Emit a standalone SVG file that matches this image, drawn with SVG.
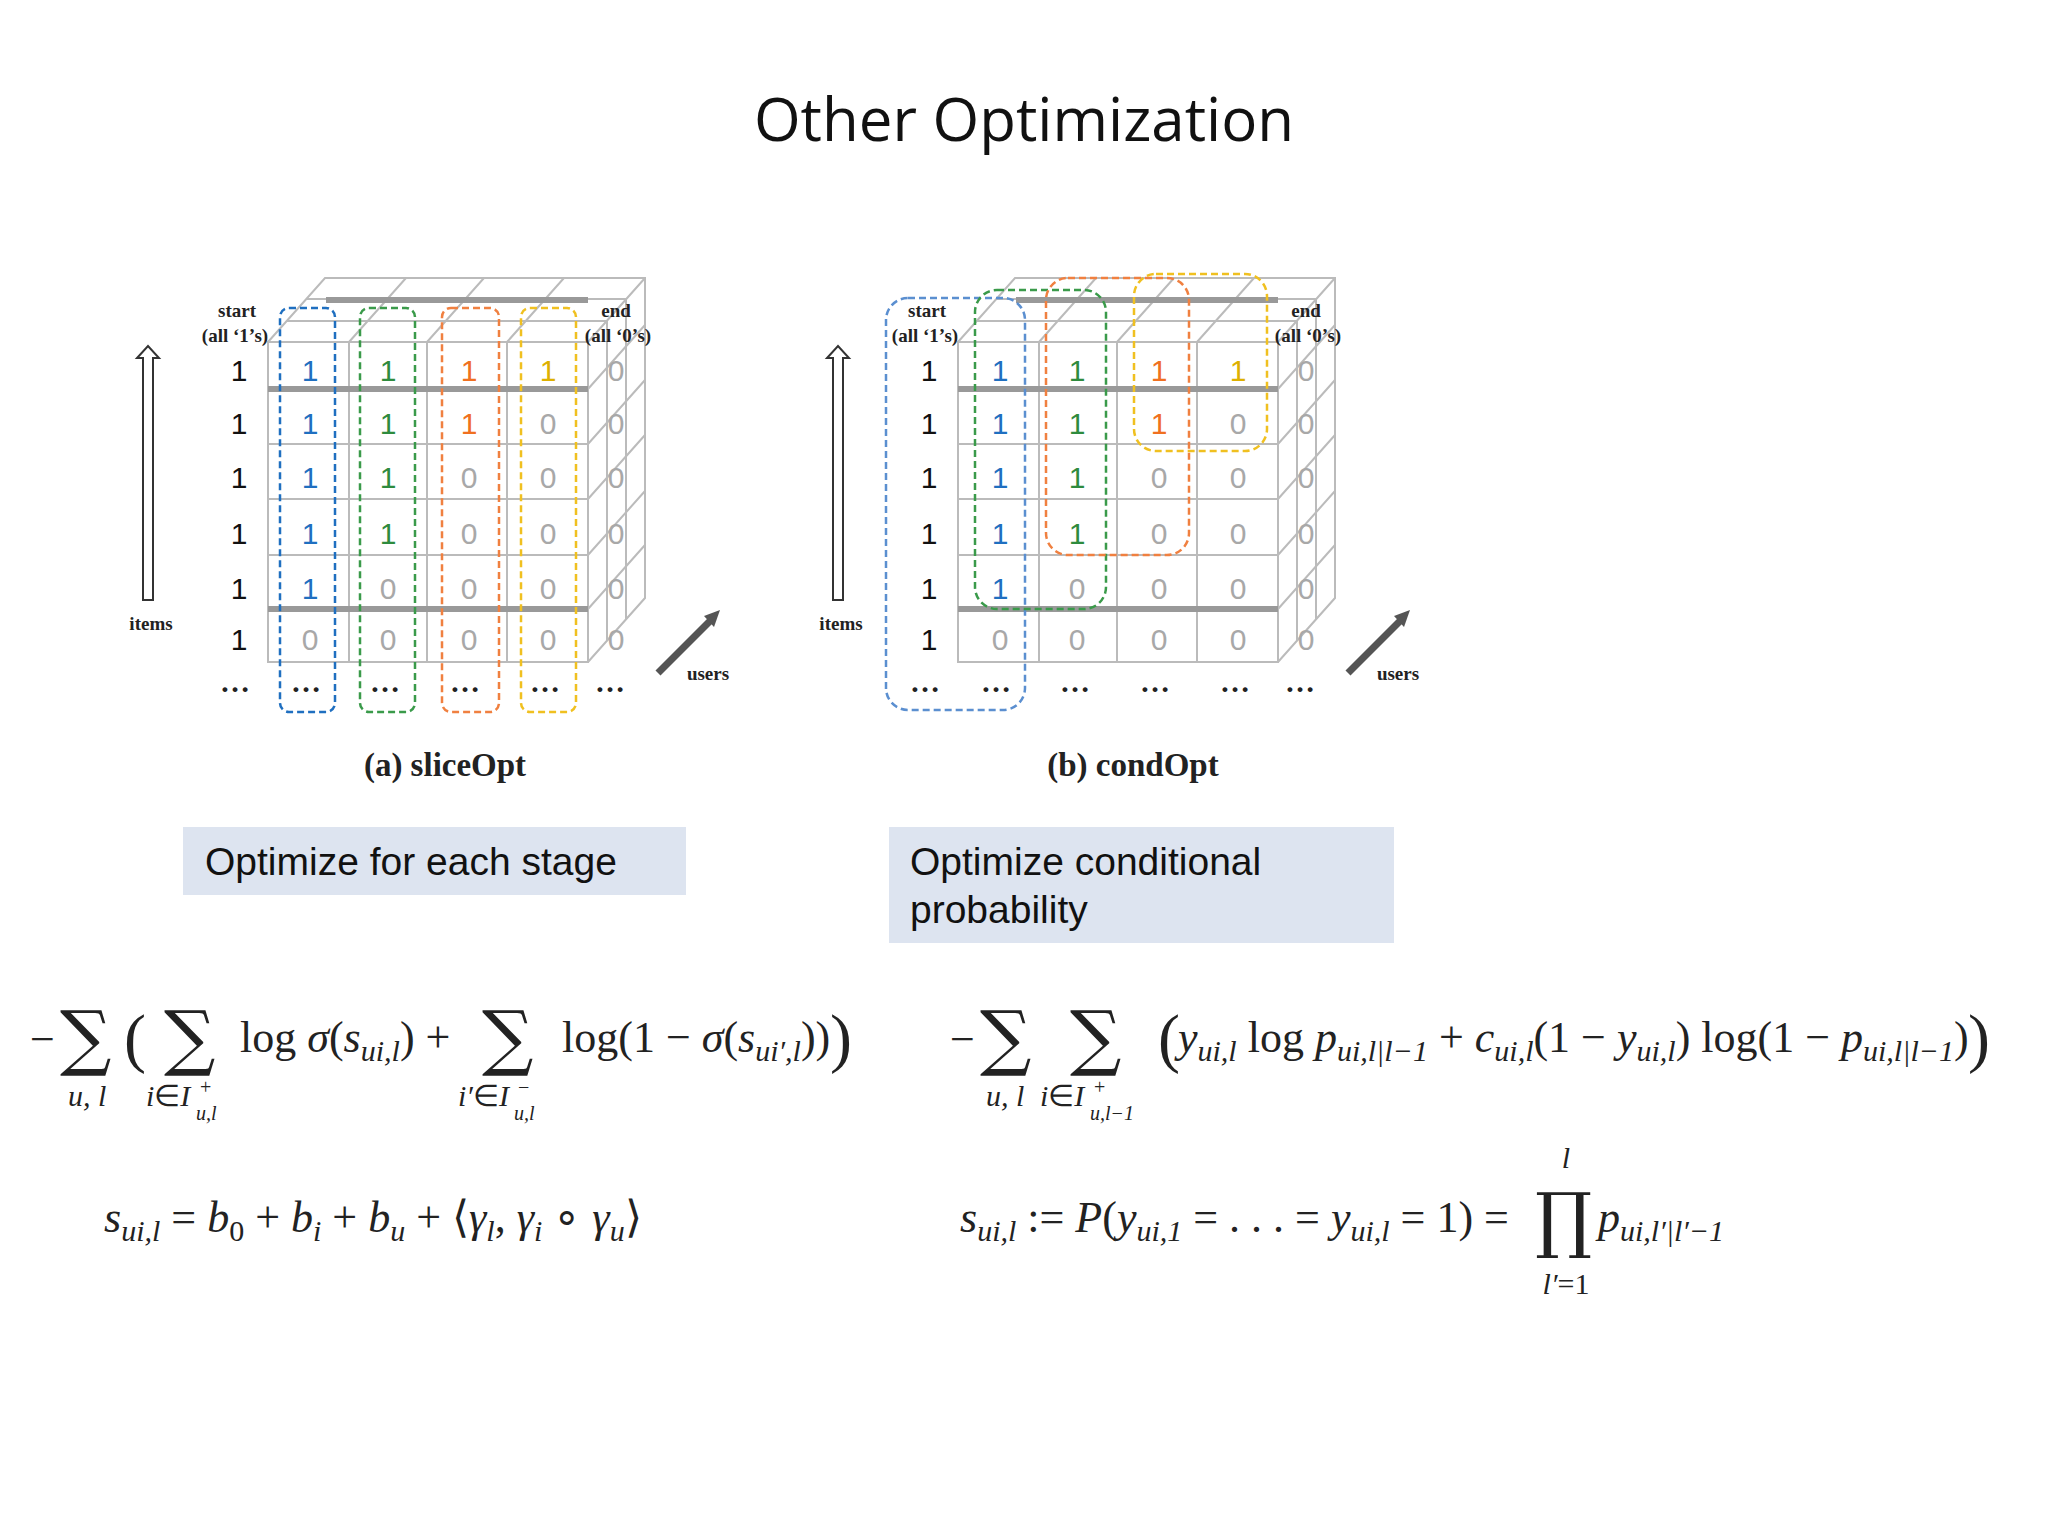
<svg xmlns="http://www.w3.org/2000/svg" width="2048" height="1536" viewBox="0 0 2048 1536">
<defs>
<style>
.t{font-family:"Liberation Serif",serif;font-weight:bold;fill:#222}
.c{font-family:"Liberation Sans",sans-serif;font-size:30px;text-anchor:middle}
.k{fill:#111}.b{fill:#1f6fc0}.g{fill:#2e8b3e}.o{fill:#f07020}.y{fill:#ddb000}.z{fill:#a8a8a8}
.gl{stroke:#bbb;stroke-width:2;fill:none}
.tk{stroke:#999;stroke-width:6}
.box{fill:none;stroke-width:2.5;stroke-dasharray:7 4}
.m{font-family:"Liberation Serif",serif;font-style:italic;font-size:44px;fill:#222}
.r{font-style:normal}
.s{font-size:30px}
.ss{font-size:20px}
.big{font-family:"DejaVu Serif",serif;font-style:normal;font-size:72px}
.par{font-family:"Liberation Serif",serif;font-style:normal;font-size:66px}
.lbl{font-family:"Liberation Sans",sans-serif;font-size:39px;fill:#111}
</style>
<g id="cube">
<path class="gl" d="M268 342 L325 278 L645 278 L645 598 L588 662 M588 342 L645 278"/>
<path class="gl" d="M287 321 L607 321 L607 641 M306 299 L626 299 L626 619"/>
<path class="gl" d="M349 342 L406 278 M427 342 L484 278 M507 342 L564 278"/>
<path class="gl" d="M588 389 L645 325 M588 444 L645 380 M588 499 L645 435 M588 555 L645 491 M588 609 L645 545"/>
<rect class="gl" x="268" y="342" width="320" height="320"/>
<path class="gl" d="M349 342 V662 M427 342 V662 M507 342 V662 M268 444 H588 M268 499 H588 M268 555 H588"/>
<path class="tk" d="M268 389 H588 M268 609 H588 M326 300 H588"/>
<g class="c">
<text x="239" y="381" class="k">1</text><text x="239" y="434" class="k">1</text><text x="239" y="488" class="k">1</text><text x="239" y="544" class="k">1</text><text x="239" y="599" class="k">1</text><text x="239" y="650" class="k">1</text>
<text x="616" y="381" class="z">0</text><text x="616" y="434" class="z">0</text><text x="616" y="488" class="z">0</text><text x="616" y="544" class="z">0</text><text x="616" y="599" class="z">0</text><text x="616" y="650" class="z">0</text>
</g>
<g class="t" font-size="19" text-anchor="middle">
<text x="237" y="317">start</text><text x="235" y="342">(all ‘1’s)</text>
<text x="616" y="317">end</text><text x="618" y="342">(all ‘0’s)</text>
<text x="151" y="630">items</text><text x="708" y="680">users</text>
</g>
<path d="M143 600 V358 L137 358 L148 346 L159 358 L153 358 V600 Z" fill="#fff" stroke="#333" stroke-width="2"/>
<path d="M658 673 L712 619" stroke="#555" stroke-width="7"/>
<path d="M704 616 L720 610 L714 627 Z" fill="#555"/>
<g class="t" font-size="30" text-anchor="middle">
<text x="235" y="692">…</text><text x="306" y="692">…</text><text x="385" y="692">…</text><text x="465" y="692">…</text><text x="545" y="692">…</text><text x="610" y="692">…</text>
</g>
</g>
</defs>
<rect width="2048" height="1536" fill="#fff"/>
<text x="1024" y="141" text-anchor="middle" font-family="Open Sans,Liberation Sans,sans-serif" font-size="60" fill="#111">Other Optimization</text>

<g id="panel-a">
<use href="#cube"/>
<g class="c">
<text x="310" y="381" class="b">1</text><text x="310" y="434" class="b">1</text><text x="310" y="488" class="b">1</text><text x="310" y="544" class="b">1</text><text x="310" y="599" class="b">1</text><text x="310" y="650" class="z">0</text>
<text x="388" y="381" class="g">1</text><text x="388" y="434" class="g">1</text><text x="388" y="488" class="g">1</text><text x="388" y="544" class="g">1</text><text x="388" y="599" class="z">0</text><text x="388" y="650" class="z">0</text>
<text x="469" y="381" class="o">1</text><text x="469" y="434" class="o">1</text><text x="469" y="488" class="z">0</text><text x="469" y="544" class="z">0</text><text x="469" y="599" class="z">0</text><text x="469" y="650" class="z">0</text>
<text x="548" y="381" class="y">1</text><text x="548" y="434" class="z">0</text><text x="548" y="488" class="z">0</text><text x="548" y="544" class="z">0</text><text x="548" y="599" class="z">0</text><text x="548" y="650" class="z">0</text>
</g>
<rect class="box" x="280" y="308" width="55" height="404" rx="9" stroke="#1f6fc0"/>
<rect class="box" x="360" y="308" width="55" height="404" rx="9" stroke="#3a9a4a"/>
<rect class="box" x="442" y="308" width="57" height="404" rx="9" stroke="#f08040"/>
<rect class="box" x="521" y="308" width="55" height="404" rx="9" stroke="#f0c020"/>
<text x="445" y="776" class="t" font-size="33" text-anchor="middle">(a) sliceOpt</text>
</g>

<g id="panel-b">
<use href="#cube" transform="translate(690,0)"/>
<g class="c">
<text x="1000" y="381" class="b">1</text><text x="1000" y="434" class="b">1</text><text x="1000" y="488" class="b">1</text><text x="1000" y="544" class="b">1</text><text x="1000" y="599" class="b">1</text><text x="1000" y="650" class="z">0</text>
<text x="1077" y="381" class="g">1</text><text x="1077" y="434" class="g">1</text><text x="1077" y="488" class="g">1</text><text x="1077" y="544" class="g">1</text><text x="1077" y="599" class="z">0</text><text x="1077" y="650" class="z">0</text>
<text x="1159" y="381" class="o">1</text><text x="1159" y="434" class="o">1</text><text x="1159" y="488" class="z">0</text><text x="1159" y="544" class="z">0</text><text x="1159" y="599" class="z">0</text><text x="1159" y="650" class="z">0</text>
<text x="1238" y="381" class="y">1</text><text x="1238" y="434" class="z">0</text><text x="1238" y="488" class="z">0</text><text x="1238" y="544" class="z">0</text><text x="1238" y="599" class="z">0</text><text x="1238" y="650" class="z">0</text>
</g>
<rect class="box" x="886" y="298" width="139" height="412" rx="22" stroke="#5b8fd0"/>
<rect class="box" x="975" y="290" width="131" height="319" rx="22" stroke="#3a9a4a"/>
<rect class="box" x="1046" y="278" width="143" height="277" rx="22" stroke="#f08040"/>
<rect class="box" x="1134" y="274" width="133" height="177" rx="22" stroke="#f0c020"/>
<text x="1133" y="776" class="t" font-size="33" text-anchor="middle">(b) condOpt</text>
</g>

<g id="box1">
<rect x="183" y="827" width="503" height="68" fill="#dde4f0"/>
<text x="205" y="875" class="lbl">Optimize for each stage</text>
</g>
<g id="box2">
<rect x="889" y="827" width="505" height="116" fill="#dde4f0"/>
<text x="910" y="875" class="lbl">Optimize conditional</text>
<text x="910" y="923" class="lbl">probability</text>
</g>

<g id="formulas" class="m">
<text x="30" y="1054" class="r">−</text>
<text x="60" y="1062" class="big">∑</text>
<text x="124" y="1060" class="par">(</text>
<text x="164" y="1062" class="big">∑</text>
<text x="240" y="1052"><tspan class="r">log </tspan>σ<tspan class="r">(</tspan>s<tspan class="s" dy="9">ui,l</tspan><tspan class="r" dy="-9">) +</tspan></text>
<text x="482" y="1062" class="big">∑</text>
<text x="562" y="1052"><tspan class="r">log(1 − </tspan>σ<tspan class="r">(</tspan>s<tspan class="s" dy="9">ui′,l</tspan><tspan class="r" dy="-9">))</tspan></text>
<text x="830" y="1060" class="par">)</text>
<text x="68" y="1106" class="s">u, l</text>
<text x="146" y="1106" class="s">i<tspan class="r">∈</tspan>I</text>
<text x="200" y="1094" class="ss r">+</text>
<text x="196" y="1120" class="ss">u,l</text>
<text x="458" y="1106" class="s">i′<tspan class="r">∈</tspan>I</text>
<text x="518" y="1094" class="ss r">−</text>
<text x="514" y="1120" class="ss">u,l</text>

<text x="950" y="1054" class="r">−</text>
<text x="980" y="1062" class="big">∑</text>
<text x="1070" y="1062" class="big">∑</text>
<text x="1158" y="1060" class="par">(</text>
<text x="1178" y="1052">y<tspan class="s" dy="9">ui,l</tspan><tspan class="r" dy="-9"> log </tspan>p<tspan class="s" dy="9">ui,l|l−1</tspan><tspan class="r" dy="-9"> + </tspan>c<tspan class="s" dy="9">ui,l</tspan><tspan class="r" dy="-9">(1 − </tspan>y<tspan class="s" dy="9">ui,l</tspan><tspan class="r" dy="-9">) log(1 − </tspan>p<tspan class="s" dy="9">ui,l|l−1</tspan><tspan class="r" dy="-9">)</tspan></text>
<text x="1968" y="1060" class="par">)</text>
<text x="986" y="1106" class="s">u, l</text>
<text x="1040" y="1106" class="s">i<tspan class="r">∈</tspan>I</text>
<text x="1094" y="1094" class="ss r">+</text>
<text x="1090" y="1120" class="ss">u,l−1</text>

<text x="104" y="1232">s<tspan class="s" dy="9">ui,l</tspan><tspan class="r" dy="-9"> = </tspan>b<tspan class="s r" dy="9">0</tspan><tspan class="r" dy="-9"> + </tspan>b<tspan class="s" dy="9">i</tspan><tspan class="r" dy="-9"> + </tspan>b<tspan class="s" dy="9">u</tspan><tspan class="r" dy="-9"> + ⟨</tspan>γ<tspan class="s" dy="9">l</tspan><tspan class="r" dy="-9">, </tspan>γ<tspan class="s" dy="9">i</tspan><tspan class="r" dy="-9"> ∘ </tspan>γ<tspan class="s" dy="9">u</tspan><tspan class="r" dy="-9">⟩</tspan></text>

<text x="960" y="1232">s<tspan class="s" dy="9">ui,l</tspan><tspan class="r" dy="-9"> := </tspan>P<tspan class="r">(</tspan>y<tspan class="s" dy="9">ui,1</tspan><tspan class="r" dy="-9"> = . . . = </tspan>y<tspan class="s" dy="9">ui,l</tspan><tspan class="r" dy="-9"> = 1) =</tspan></text>
<text x="1535" y="1244" class="big" font-size="80">∏</text>
<text x="1566" y="1168" class="s" text-anchor="middle">l</text>
<text x="1566" y="1294" class="s" text-anchor="middle">l′<tspan class="r">=1</tspan></text>
<text x="1598" y="1232">p<tspan class="s" dy="9">ui,l′|l′−1</tspan></text>
</g>
</svg>
